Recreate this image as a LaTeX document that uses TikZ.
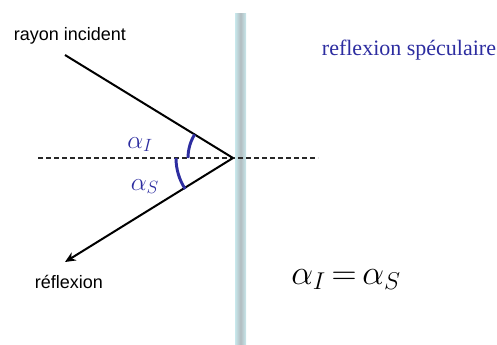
\RequirePackage{fix-cm}
\documentclass[tikz,border=0pt]{standalone}
\usepackage{fontspec}
\setmainfont{Liberation Serif}
\setsansfont{Liberation Sans}
\usepackage{amsmath}
\usepackage{tikz}
\usetikzlibrary{arrows.meta, calc}
\definecolor{myblue}{RGB}{45,45,160}
\definecolor{mydark}{RGB}{0,0,0}
\definecolor{mirgray}{RGB}{178,188,192}
\definecolor{mircyan}{RGB}{200,232,236}
\definecolor{mgframe}{RGB}{40,40,40}
\tikzset{
  ray/.style={line width=1.5pt, color=mydark},
  rayarrow/.style={-{Stealth[length=8pt, width=7pt]}, line width=1.5pt, color=mydark},
  anglearc/.style={line width=2.2pt, color=myblue},
  normal/.style={dashed, dash pattern=on 3.5pt off 2.5pt, line width=0.9pt, color=mgframe},
  sflabel/.style={font=\fontsize{13.5}{16}\selectfont\sffamily, anchor=base},
  bluelabel/.style={font=\fontsize{16.5}{20}\selectfont, color=myblue, anchor=base}
}

\begin{document}
\begin{tikzpicture}[x=0.75pt, y=0.75pt]
  \useasboundingbox (0,0) rectangle (497,344);

  % Mirror
  \shade[left color=mircyan, right color=mircyan, middle color=mirgray]
    (235,0) rectangle (246,331);

  % Rays
  \coordinate (src) at (65,289);
  \coordinate (hit) at (233,186);
  \coordinate (dst) at (65,82);
  \coordinate (nstart) at (38,186);
  \coordinate (nend) at (318,186);
  \draw[normal] (nstart) -- (nend);
  \draw[ray] (src) -- (hit);
  \draw[rayarrow] (hit) -- (dst);

  % Angles
  \draw[anglearc] ($(hit)+(180:45)$) arc (180:148.5:45);
  \draw[anglearc] ($(hit)+(180:57)$) arc (180:213:57);
  \node[bluelabel, font=\fontsize{19}{22}\selectfont] (aI) at (140,196) {$\alpha_I$};
  \node[bluelabel, font=\fontsize{19}{22}\selectfont] (aS) at (145,154) {$\alpha_S$};

  % Labels
  \node[sflabel] (incident) at (70,304) {rayon incident};
  \node[sflabel] (reflexion) at (69,56) {réflexion};
  \node[bluelabel] (specular) at (409,289) {reflexion spéculaire};
  \node[anchor=base, font=\fontsize{26}{30}\selectfont] (law) at (346,60) {$\alpha_I\,{=}\,\alpha_S$};

\end{tikzpicture}
\end{document}
